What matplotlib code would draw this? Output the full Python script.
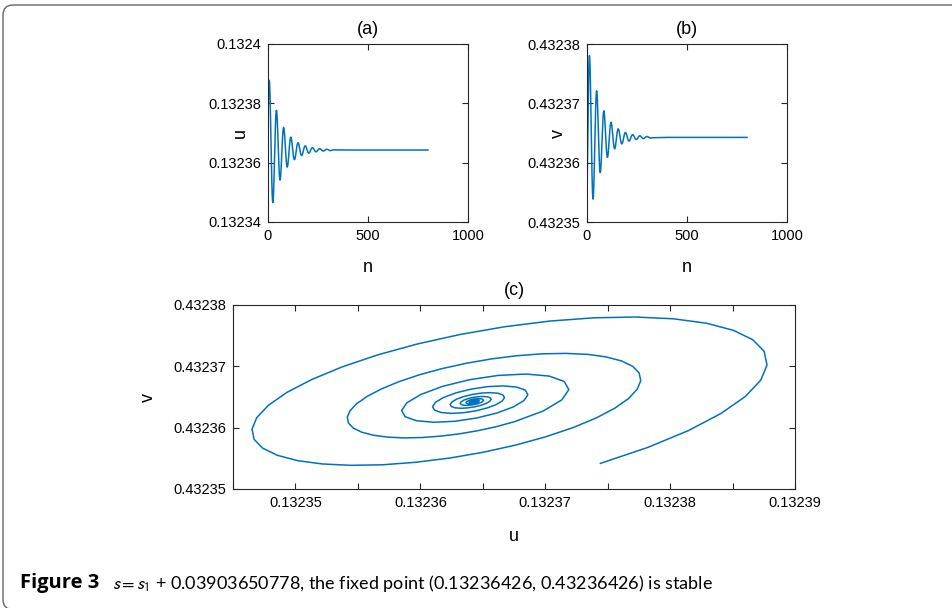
import numpy as np
import matplotlib
matplotlib.use("Agg")
import matplotlib.pyplot as plt
from matplotlib.patches import FancyBboxPatch

# fixed point from the caption
u_fix = 0.13236426
v_fix = 0.43236426

# iteration index and deviation from the fixed point (units of 1e-5)
n_iter = [0, 1, 2, 3, 4, 5, 6, 7, 8, 9, 10, 11, 12, 13, 14, 15, 16, 17, 18,
          19, 20, 21, 22, 23, 24, 25, 26, 27, 28, 29, 30, 31, 32, 33, 34, 35, 36,
          37, 38, 39, 40, 41, 42, 43, 44, 45, 46, 47, 48, 49, 50, 51, 52, 53, 54,
          55, 56, 57, 58, 59, 60, 61, 62, 63, 64, 65, 66, 67, 68, 69, 70, 71, 72,
          74, 76, 78, 80, 82, 84, 86, 88, 90, 92, 94, 96, 98, 100, 102, 104, 106, 108,
          110, 112, 114, 116, 118, 120, 122, 124, 126, 128, 130, 132, 134, 136, 138, 140, 142, 144,
          146, 148, 150, 152, 154, 156, 158, 160, 162, 164, 166, 168, 170, 172, 174, 176, 178, 180,
          182, 184, 186, 188, 190, 192, 194, 196, 198, 200, 202, 204, 206, 208, 210, 212, 214, 216,
          219, 222, 225, 228, 231, 234, 237, 240, 243, 246, 249, 252,
          255, 258, 261, 264, 267, 270, 273, 276, 279, 282, 285, 288,
          291, 294, 297, 300, 303, 306, 309, 312, 315, 318, 321, 324, 360, 400, 800]
u_dev = [1.016, 1.394, 1.719, 1.981, 2.176, 2.300, 2.350, 2.327, 2.236, 2.079,
         1.865, 1.601, 1.297, 0.963, 0.611, 0.251, -0.106, -0.449, -0.767,
         -1.052, -1.297, -1.496, -1.643, -1.736, -1.774, -1.757, -1.688, -1.570,
         -1.408, -1.209, -0.979, -0.727, -0.461, -0.189, 0.080, 0.339, 0.579,
         0.794, 0.979, 1.129, 1.240, 1.310, 1.339, 1.326, 1.274, 1.185, 1.063,
         0.913, 0.739, 0.549, 0.348, 0.143, -0.060, -0.256, -0.437,
         -0.600, -0.739, -0.852, -0.936, -0.989, -1.011, -1.001, -0.962, -0.895,
         -0.802, -0.689, -0.558, -0.414, -0.263, -0.108, 0.046, 0.193, 0.330,
         0.558, 0.707, 0.763, 0.726, 0.606, 0.421, 0.198, -0.034, -0.249, -0.421,
         -0.534, -0.576, -0.548, -0.457, -0.318, -0.150, 0.026, 0.188,
         0.318, 0.403, 0.435, 0.414, 0.345, 0.240, 0.113, -0.020, -0.142, -0.240,
         -0.304, -0.328, -0.312, -0.261, -0.181, -0.085, 0.015, 0.107,
         0.181, 0.230, 0.248, 0.236, 0.197, 0.137, 0.064, -0.011, -0.081,
         -0.137, -0.173, -0.187, -0.178, -0.149, -0.103, -0.049, 0.008, 0.061,
         0.103, 0.131, 0.141, 0.134, 0.112, 0.078, 0.037, -0.006, -0.046,
         -0.078, -0.099, -0.107, -0.101, -0.085, -0.059, -0.028, 0.005, 0.035,
         0.068, 0.081, 0.071, 0.044, 0.009, -0.026, -0.051, -0.061, -0.054, -0.034, -0.007, 0.020,
         0.039, 0.046, 0.041, 0.025, 0.005, -0.015, -0.029, -0.035, -0.031, -0.019, -0.004, 0.011,
         0.022, 0.026, 0.023, 0.014, 0.003, -0.009, -0.017, -0.020, -0.018, -0.011, -0.002, 0.006,
         0.004, 0.0, 0.0]
v_dev = [-1.008, -0.749, -0.475, -0.195, 0.082, 0.349, 0.596, 0.818, 1.008, 1.162,
         1.277, 1.349, 1.378, 1.365, 1.312, 1.220, 1.094, 0.939, 0.761,
         0.565, 0.358, 0.147, -0.062, -0.263, -0.450, -0.617, -0.761, -0.877,
         -0.964, -1.018, -1.040, -1.031, -0.990, -0.921, -0.826, -0.709, -0.574,
         -0.427, -0.271, -0.111, 0.047, 0.199, 0.340, 0.466, 0.575, 0.662, 0.727,
         0.769, 0.785, 0.778, 0.747, 0.695, 0.623, 0.535, 0.434,
         0.322, 0.204, 0.084, -0.035, -0.150, -0.256, -0.352, -0.434, -0.500,
         -0.549, -0.580, -0.593, -0.587, -0.564, -0.525, -0.471, -0.404, -0.327,
         -0.154, 0.027, 0.194, 0.327, 0.415, 0.448, 0.426, 0.355, 0.247, 0.116,
         -0.020, -0.146, -0.247, -0.313, -0.338, -0.322, -0.268, -0.187,
         -0.088, 0.015, 0.110, 0.187, 0.236, 0.255, 0.243, 0.202, 0.141, 0.066,
         -0.011, -0.083, -0.141, -0.178, -0.193, -0.183, -0.153, -0.106,
         -0.050, 0.009, 0.063, 0.106, 0.135, 0.145, 0.138, 0.115, 0.080,
         0.038, -0.007, -0.047, -0.080, -0.102, -0.110, -0.104, -0.087, -0.061,
         -0.029, 0.005, 0.036, 0.061, 0.077, 0.083, 0.079, 0.066, 0.046,
         0.022, -0.004, -0.027, -0.046, -0.058, -0.063, -0.059, -0.050, -0.035,
         -0.007, 0.020, 0.040, 0.047, 0.042, 0.026, 0.005, -0.015, -0.030, -0.036, -0.032, -0.020,
         -0.004, 0.012, 0.023, 0.027, 0.024, 0.015, 0.003, -0.009, -0.017, -0.020, -0.018, -0.011,
         -0.002, 0.007, 0.013, 0.015, 0.014, 0.009, 0.002, -0.005, -0.010, -0.012, -0.010, -0.006,
         -0.004, 0.0, 0.0]

n_ticks = [0, 500, 1000]
u_ticks = [0.13234, 0.13236, 0.13238, 0.1324]
u_ticklabels = ["0.13234", "0.13236", "0.13238", "0.1324"]
v_ticks = [0.43235, 0.43236, 0.43237, 0.43238]
v_ticklabels = ["0.43235", "0.43236", "0.43237", "0.43238"]
uc_ticks = [0.13235, 0.13236, 0.13237, 0.13238, 0.13239]
uc_ticklabels = ["0.13235", "0.13236", "0.13237", "0.13238", "0.13239"]
uc_minor = [0.132345, 0.132355, 0.132365, 0.132375, 0.132385]

u = u_fix + np.array(u_dev) * 1e-5
v = v_fix + np.array(v_dev) * 1e-5

plt.rcParams["font.family"] = ["Liberation Sans", "DejaVu Sans"]
plt.rcParams["mathtext.fontset"] = "stixsans"

line_color = "#0072BD"
axis_color = "#262626"
W, H = 953, 608

fig = plt.figure(figsize=(W / 100, H / 100), dpi=100)

def px_axes(left, top, right, bottom):
    return fig.add_axes([left / W, 1 - bottom / H, (right - left) / W, (bottom - top) / H])

def style(ax):
    for s in ax.spines.values():
        s.set_color(axis_color)
        s.set_linewidth(0.8)
    ax.tick_params(which="both", direction="in", top=True, right=True,
                   length=4, width=0.8, color=axis_color,
                   labelsize=10.5, labelcolor="black", pad=5)

ax_a = px_axes(268, 44, 468, 222)
ax_b = px_axes(587, 44, 787, 222)
ax_c = px_axes(233, 305, 795, 489)

ax_a.plot(n_iter, u, color=line_color, lw=1.1)
ax_a.set_xlim(0, 1000)
ax_a.set_ylim(0.13234, 0.1324)
ax_a.set_xticks(n_ticks)
ax_a.set_yticks(u_ticks)
ax_a.set_yticklabels(u_ticklabels)

ax_b.plot(n_iter, v, color=line_color, lw=1.1)
ax_b.set_xlim(0, 1000)
ax_b.set_ylim(0.43235, 0.43238)
ax_b.set_xticks(n_ticks)
ax_b.set_yticks(v_ticks)
ax_b.set_yticklabels(v_ticklabels)

ax_c.plot(u, v, color=line_color, lw=1.1)
ax_c.set_xlim(0.132345, 0.13239)
ax_c.set_ylim(0.43235, 0.43238)
ax_c.set_xticks(uc_ticks)
ax_c.set_xticklabels(uc_ticklabels)
ax_c.set_xticks(uc_minor, minor=True)
ax_c.set_yticks(v_ticks)
ax_c.set_yticklabels(v_ticklabels)

for ax, title, xl, yl in [(ax_a, "(a)", "n", "u"), (ax_b, "(b)", "n", "v"), (ax_c, "(c)", "u", "v")]:
    style(ax)
    ax.set_xlabel(xl, fontsize=13, va="center")
    ax.set_ylabel(yl, fontsize=13, va="center")
    ax.text(0.5, 1.08, title, transform=ax.transAxes, ha="center", va="center", fontsize=13)

ax_a.xaxis.set_label_coords(0.5, -0.258)
ax_b.xaxis.set_label_coords(0.5, -0.258)
ax_a.yaxis.set_label_coords(-0.14, 0.5)
ax_b.yaxis.set_label_coords(-0.145, 0.5)
ax_c.xaxis.set_label_coords(0.5, -0.26)
ax_c.yaxis.set_label_coords(-0.151, 0.5)

# rounded frame around the figure panel
frame = FancyBboxPatch((0.03, -0.015), 10.0, 6.045,
                       boxstyle="round,pad=0,rounding_size=0.1",
                       transform=fig.dpi_scale_trans, fill=False,
                       edgecolor="#666666", linewidth=1.0, clip_on=False)
fig.patches.append(frame)

fig.text(20 / W, 1 - 583 / H, "Figure 3", fontsize=14.5, fontweight="bold",
         family="Open Sans", va="center", ha="left")
fig.text(112 / W, 1 - 583 / H,
         r"$s=s_1$ + 0.03903650778, the fixed point (0.13236426, 0.43236426) is stable",
         fontsize=13, family="Lato", va="center", ha="left")

fig.savefig("out.png", dpi=100)
